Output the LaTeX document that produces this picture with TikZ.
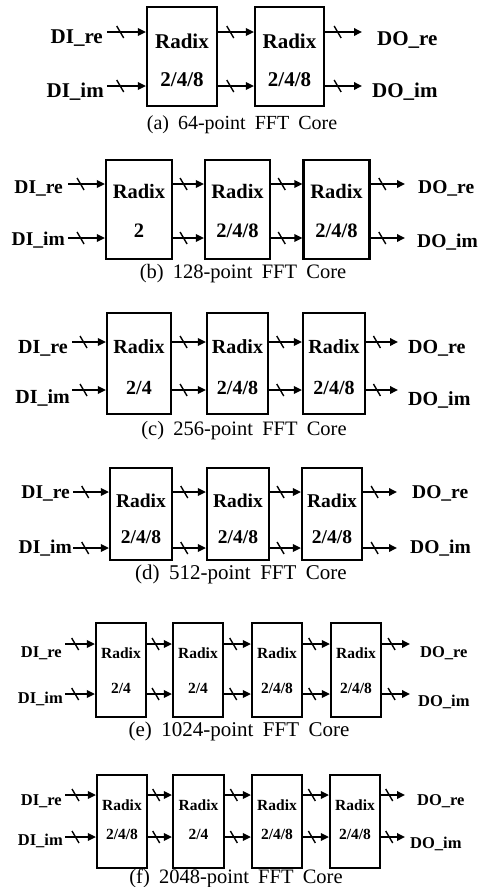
\documentclass[tikz,border=0pt]{standalone}
\usepackage{fontspec}
\setmainfont{Liberation Serif}
\usetikzlibrary{arrows.meta,decorations.markings}
\tikzset{
  blk/.style={draw, line width=2.2pt, inner sep=0pt},
  lab/.style={font=\bfseries\fontsize{#1}{#1}\selectfont, inner sep=0pt},
  btxt/.style={font=\bfseries\fontsize{#1}{#1}\selectfont, inner sep=0pt, anchor=base},
  cap/.style={font=\fontsize{#1}{#1}\selectfont, inner sep=0pt, anchor=base},
  sig/.style={line width=1.8pt, -{Triangle[length=8pt,width=7.5pt]},
    postaction={decorate, decoration={markings,
      mark=at position 0.34 with {\draw[line width=1.4pt,-] (-3.5pt,6pt) -- (3.5pt,-6pt);}}}},
}
\newcommand{\capsp}{\hspace{0.45em}}
\begin{document}
\begin{tikzpicture}[x=1pt,y=-1pt]
\useasboundingbox (0,0) rectangle (480,887);

% ---------------- (a)
\node[blk, minimum width=70pt, minimum height=99pt] (a1) at (182,56.5) {};
\node[blk, minimum width=69pt, minimum height=99pt] (a2) at (289.5,56.5) {};
\node[btxt=21] (a1t) at (182,48) {Radix};
\node[btxt=21] (a1n) at (182,86) {2/4/8};
\node[btxt=21] (a2t) at (289.5,48) {Radix};
\node[btxt=21] (a2n) at (289.5,86) {2/4/8};
\coordinate (ai1) at (107,32); \coordinate (ai2) at (107,86);
\coordinate (ao1) at (362,32); \coordinate (ao2) at (362,86);
\node[lab=21, anchor=base east] (aDIre) at (103,43) {DI\_re};
\node[lab=21, anchor=base east] (aDIim) at (104,97) {DI\_im};
\node[lab=21, anchor=base west] (aDOre) at (377,45) {DO\_re};
\node[lab=21, anchor=base west] (aDOim) at (372,97) {DO\_im};
\draw[sig] (ai1) -- (a1.west |- ai1);
\draw[sig] (ai2) -- (a1.west |- ai2);
\draw[sig] (a1.east |- ai1) -- (a2.west |- ai1);
\draw[sig] (a1.east |- ai2) -- (a2.west |- ai2);
\draw[sig] (a2.east |- ao1) -- (ao1);
\draw[sig] (a2.east |- ao2) -- (ao2);
\node[cap=20] (acap) at (242,129) {(a)\capsp 64-point\capsp FFT\capsp Core};

% ---------------- (b)
\node[blk, minimum width=66pt, minimum height=99pt] (b1) at (139,209.5) {};
\node[blk, minimum width=65pt, minimum height=99pt] (b2) at (237.5,209.5) {};
\node[blk, minimum width=66pt, minimum height=99pt] (b3) at (336.5,209.5) {};
\node[btxt=20.5] (b1t) at (139,198) {Radix};
\node[btxt=20.5] (b1n) at (139,237) {2};
\node[btxt=20.5] (b2t) at (237.5,198) {Radix};
\node[btxt=20.5] (b2n) at (237.5,237) {2/4/8};
\node[btxt=20.5] (b3t) at (336.5,198) {Radix};
\node[btxt=20.5] (b3n) at (336.5,237) {2/4/8};
\coordinate (bi1) at (68,184); \coordinate (bi2) at (68,238);
\coordinate (bo1) at (405,184); \coordinate (bo2) at (405,238);
\node[lab=19.5, anchor=base east] (bDIre) at (63,193) {DI\_re};
\node[lab=19.5, anchor=base east] (bDIim) at (65,245) {DI\_im};
\node[lab=19.5, anchor=base west] (bDOre) at (418,193) {DO\_re};
\node[lab=19.5, anchor=base west] (bDOim) at (417,247) {DO\_im};
\draw[sig] (bi1) -- (b1.west |- bi1);
\draw[sig] (bi2) -- (b1.west |- bi2);
\draw[sig] (b1.east |- bi1) -- (b2.west |- bi1);
\draw[sig] (b1.east |- bi2) -- (b2.west |- bi2);
\draw[sig] (b2.east |- bi1) -- (b3.west |- bi1);
\draw[sig] (b2.east |- bi2) -- (b3.west |- bi2);
\draw[sig] (b3.east |- bo1) -- (bo1);
\draw[sig] (b3.east |- bo2) -- (bo2);
\node[cap=20.5] (bcap) at (243,278) {(b)\capsp 128-point\capsp FFT\capsp Core};

% ---------------- (c)
\node[blk, minimum width=64pt, minimum height=101pt] (c1) at (139,363.5) {};
\node[blk, minimum width=61pt, minimum height=101pt] (c2) at (237.5,363.5) {};
\node[blk, minimum width=62pt, minimum height=101pt] (c3) at (334,363.5) {};
\node[btxt=20] (c1t) at (139,353) {Radix};
\node[btxt=20] (c1n) at (139,394) {2/4};
\node[btxt=20] (c2t) at (237.5,353) {Radix};
\node[btxt=20] (c2n) at (237.5,394) {2/4/8};
\node[btxt=20] (c3t) at (334,353) {Radix};
\node[btxt=20] (c3n) at (334,394) {2/4/8};
\coordinate (ci1) at (72,342); \coordinate (ci2) at (72,390);
\coordinate (co1) at (398,342); \coordinate (co2) at (398,390);
\node[lab=20, anchor=base east] (cDIre) at (68,353) {DI\_re};
\node[lab=20, anchor=base east] (cDIim) at (70,403) {DI\_im};
\node[lab=20, anchor=base west] (cDOre) at (408,353) {DO\_re};
\node[lab=20, anchor=base west] (cDOim) at (408,405) {DO\_im};
\draw[sig] (ci1) -- (c1.west |- ci1);
\draw[sig] (ci2) -- (c1.west |- ci2);
\draw[sig] (c1.east |- ci1) -- (c2.west |- ci1);
\draw[sig] (c1.east |- ci2) -- (c2.west |- ci2);
\draw[sig] (c2.east |- ci1) -- (c3.west |- ci1);
\draw[sig] (c2.east |- ci2) -- (c3.west |- ci2);
\draw[sig] (c3.east |- co1) -- (co1);
\draw[sig] (c3.east |- co2) -- (co2);
\node[cap=20.5] (ccap) at (244,435) {(c)\capsp 256-point\capsp FFT\capsp Core};

% ---------------- (d)
\node[blk, minimum width=62pt, minimum height=92pt] (d1) at (141,514) {};
\node[blk, minimum width=62pt, minimum height=92pt] (d2) at (238,514) {};
\node[blk, minimum width=60pt, minimum height=92pt] (d3) at (332,514) {};
\node[btxt=19.5] (d1t) at (141,507) {Radix};
\node[btxt=19.5] (d1n) at (141,543) {2/4/8};
\node[btxt=19.5] (d2t) at (238,507) {Radix};
\node[btxt=19.5] (d2n) at (238,543) {2/4/8};
\node[btxt=19.5] (d3t) at (332,507) {Radix};
\node[btxt=19.5] (d3n) at (332,543) {2/4/8};
\coordinate (di1) at (73,492); \coordinate (di2) at (73,548);
\coordinate (do1) at (397,492); \coordinate (do2) at (397,548);
\node[lab=19.5, anchor=base east] (dDIre) at (70,498) {DI\_re};
\node[lab=19.5, anchor=base east] (dDIim) at (72,553) {DI\_im};
\node[lab=19.5, anchor=base west] (dDOre) at (412,498) {DO\_re};
\node[lab=19.5, anchor=base west] (dDOim) at (410,553) {DO\_im};
\draw[sig] (di1) -- (d1.west |- di1);
\draw[sig] (di2) -- (d1.west |- di2);
\draw[sig] (d1.east |- di1) -- (d2.west |- di1);
\draw[sig] (d1.east |- di2) -- (d2.west |- di2);
\draw[sig] (d2.east |- di1) -- (d3.west |- di1);
\draw[sig] (d2.east |- di2) -- (d3.west |- di2);
\draw[sig] (d3.east |- do1) -- (do1);
\draw[sig] (d3.east |- do2) -- (do2);
\node[cap=21] (dcap) at (241,579) {(d)\capsp 512-point\capsp FFT\capsp Core};

% ---------------- (e)
\node[blk, minimum width=50pt, minimum height=94pt] (e1) at (121,670) {};
\node[blk, minimum width=50pt, minimum height=94pt] (e2) at (198,670) {};
\node[blk, minimum width=50pt, minimum height=94pt] (e3) at (277,670) {};
\node[blk, minimum width=50pt, minimum height=94pt] (e4) at (356,670) {};
\node[btxt=15.5] (e1t) at (121,658) {Radix};
\node[btxt=15.5] (e1n) at (121,693) {2/4};
\node[btxt=15.5] (e2t) at (198,658) {Radix};
\node[btxt=15.5] (e2n) at (198,693) {2/4};
\node[btxt=15.5] (e3t) at (277,658) {Radix};
\node[btxt=15.5] (e3n) at (277,693) {2/4/8};
\node[btxt=15.5] (e4t) at (356,658) {Radix};
\node[btxt=15.5] (e4n) at (356,693) {2/4/8};
\coordinate (ei1) at (65,644); \coordinate (ei2) at (65,694);
\coordinate (eo1) at (410,644); \coordinate (eo2) at (410,694);
\node[lab=16.5, anchor=base east] (eDIre) at (62,657) {DI\_re};
\node[lab=16.5, anchor=base east] (eDIim) at (63,703) {DI\_im};
\node[lab=16.5, anchor=base west] (eDOre) at (420,657) {DO\_re};
\node[lab=16.5, anchor=base west] (eDOim) at (418,706) {DO\_im};
\draw[sig] (ei1) -- (e1.west |- ei1);
\draw[sig] (ei2) -- (e1.west |- ei2);
\draw[sig] (e1.east |- ei1) -- (e2.west |- ei1);
\draw[sig] (e1.east |- ei2) -- (e2.west |- ei2);
\draw[sig] (e2.east |- ei1) -- (e3.west |- ei1);
\draw[sig] (e2.east |- ei2) -- (e3.west |- ei2);
\draw[sig] (e3.east |- ei1) -- (e4.west |- ei1);
\draw[sig] (e3.east |- ei2) -- (e4.west |- ei2);
\draw[sig] (e4.east |- eo1) -- (eo1);
\draw[sig] (e4.east |- eo2) -- (eo2);
\node[cap=21] (ecap) at (239,736) {(e)\capsp 1024-point\capsp FFT\capsp Core};

% ---------------- (f)
\node[blk, minimum width=50pt, minimum height=93pt] (f1) at (122,821.5) {};
\node[blk, minimum width=51pt, minimum height=93pt] (f2) at (198.5,821.5) {};
\node[blk, minimum width=50pt, minimum height=93pt] (f3) at (277,821.5) {};
\node[blk, minimum width=50pt, minimum height=93pt] (f4) at (355,821.5) {};
\node[btxt=15.5] (f1t) at (122,810) {Radix};
\node[btxt=15.5] (f1n) at (122,839) {2/4/8};
\node[btxt=15.5] (f2t) at (198.5,810) {Radix};
\node[btxt=15.5] (f2n) at (198.5,839) {2/4};
\node[btxt=15.5] (f3t) at (277,810) {Radix};
\node[btxt=15.5] (f3n) at (277,839) {2/4/8};
\node[btxt=15.5] (f4t) at (355,810) {Radix};
\node[btxt=15.5] (f4n) at (355,839) {2/4/8};
\coordinate (fi1) at (65,795); \coordinate (fi2) at (65,837);
\coordinate (fo1) at (405,795); \coordinate (fo2) at (405,837);
\node[lab=16.5, anchor=base east] (fDIre) at (62,805) {DI\_re};
\node[lab=16.5, anchor=base east] (fDIim) at (63,845) {DI\_im};
\node[lab=16.5, anchor=base west] (fDOre) at (417,805) {DO\_re};
\node[lab=16.5, anchor=base west] (fDOim) at (410,848) {DO\_im};
\draw[sig] (fi1) -- (f1.west |- fi1);
\draw[sig] (fi2) -- (f1.west |- fi2);
\draw[sig] (f1.east |- fi1) -- (f2.west |- fi1);
\draw[sig] (f1.east |- fi2) -- (f2.west |- fi2);
\draw[sig] (f2.east |- fi1) -- (f3.west |- fi1);
\draw[sig] (f2.east |- fi2) -- (f3.west |- fi2);
\draw[sig] (f3.east |- fi1) -- (f4.west |- fi1);
\draw[sig] (f3.east |- fi2) -- (f4.west |- fi2);
\draw[sig] (f4.east |- fo1) -- (fo1);
\draw[sig] (f4.east |- fo2) -- (fo2);
\node[cap=20.5] (fcap) at (236,883) {(f)\capsp 2048-point\capsp FFT\capsp Core};
\end{tikzpicture}
\end{document}
